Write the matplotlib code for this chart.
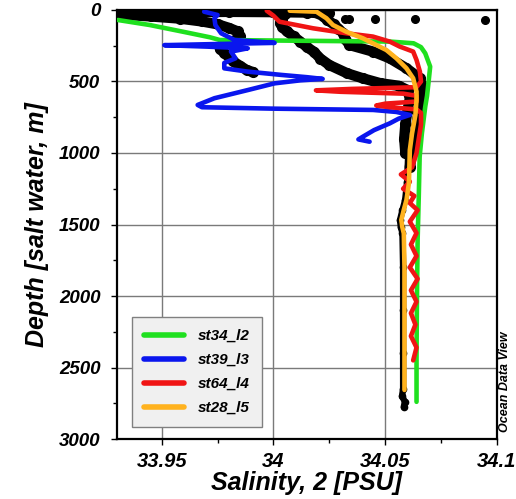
import matplotlib
matplotlib.use("Agg")
import matplotlib.pyplot as plt
from matplotlib.ticker import MultipleLocator, FixedLocator

plt.rcParams['font.family'] = ['Liberation Sans', 'DejaVu Sans']
plt.rcParams['font.weight'] = 'bold'
plt.rcParams['font.style'] = 'italic'
plt.rcParams['axes.labelweight'] = 'bold'

# ---- station profiles: depth [m] and salinity [PSU] ----
st34_depth = [70, 105, 152, 191, 210, 221, 233, 260, 303, 396, 501, 600, 676, 862, 1025, 1305, 1600, 2000, 2400, 2740]
st34_sal = [33.9304, 33.9446, 33.9595, 33.9716, 33.976, 34.0522, 34.0627, 34.066, 34.0679, 34.0701, 34.0694, 34.0687, 34.0679, 34.0664, 34.0654, 34.065, 34.0645, 34.0642, 34.064, 34.064]

st39_depth = [12, 35, 58, 105, 163, 210, 230, 238, 246, 256, 268, 291, 338, 370, 408, 431, 454, 470, 482, 492, 513, 560, 617, 664, 680, 690, 699, 713, 734, 760, 793, 840, 886, 905, 921]
st39_sal = [33.969, 33.975, 33.9736, 33.974, 33.9766, 33.9826, 34.0005, 33.975, 33.9512, 33.970, 33.9885, 33.981, 33.983, 33.978, 33.978, 33.9885, 34.0035, 34.015, 34.022, 34.012, 34.0005, 33.9885, 33.9736, 33.9661, 33.968, 34.0, 34.0446, 34.055, 34.061, 34.056, 34.052, 34.045, 34.040, 34.038, 34.043]

st64_depth = [5, 40, 82, 128, 163, 186, 221, 256, 291, 350, 431, 500, 540, 552, 562, 572, 585, 600, 640, 655, 668, 680, 695, 720, 800, 900, 1000, 1100, 1150, 1200, 1250, 1300, 1350, 1400, 1480, 1560, 1640, 1720, 1800, 1880, 1960, 2040, 2120, 2200, 2280, 2360, 2450]
st64_sal = [33.997, 34.000, 34.0027, 34.0177, 34.0326, 34.0445, 34.052, 34.0565, 34.0625, 34.064, 34.0655, 34.066, 34.064, 34.035, 34.019, 34.030, 34.058, 34.064, 34.064, 34.050, 34.046, 34.052, 34.064, 34.066, 34.066, 34.065, 34.064, 34.062, 34.057, 34.061, 34.058, 34.063, 34.061, 34.0645, 34.061, 34.064, 34.0615, 34.064, 34.061, 34.0645, 34.0615, 34.064, 34.0615, 34.0635, 34.0615, 34.064, 34.0625]

st28_depth = [5, 12, 58, 105, 152, 198, 245, 280, 338, 408, 478, 571, 629, 734, 862, 979, 1210, 1328, 1398, 1468, 1515, 1562, 1795, 2261, 2657]
st28_sal = [34.0073, 34.0192, 34.0237, 34.0266, 34.0326, 34.040, 34.046, 34.0505, 34.055, 34.0595, 34.0625, 34.064, 34.064, 34.0635, 34.062, 34.061, 34.0606, 34.0595, 34.0583, 34.0572, 34.0576, 34.0583, 34.0586, 34.0586, 34.0586]

# additional casts shown as dense black samples
surf_depth = [14, 16, 13, 15, 18, 20]
surf_sal = [33.930, 33.955, 33.980, 34.000, 34.015, 34.025]

cast_a_depth = [30, 45, 60, 80, 100, 125, 150, 180, 210, 240, 270, 300, 330, 360, 390, 420, 435]
cast_a_sal = [33.930, 33.945, 33.958, 33.968, 33.975, 33.980, 33.984, 33.985, 33.983, 33.978, 33.976, 33.978, 33.980, 33.982, 33.985, 33.988, 33.991]

cast_b_depth = [3, 30, 60, 90, 120, 150, 185, 221, 260, 291, 340, 385, 443, 478, 513, 530, 560, 620, 700, 800, 900, 1000]
cast_b_sal = [33.995, 34.005, 34.004, 34.003, 34.004, 34.006, 34.009, 34.012, 34.015, 34.018, 34.021, 34.025, 34.033, 34.040, 34.048, 34.056, 34.060, 34.061, 34.060, 34.059, 34.0585, 34.059]

cast_c_depth = [3, 15, 40, 70, 100, 130, 160, 200, 245, 291, 338, 408, 478, 520, 600, 700, 800, 900, 1000, 1100]
cast_c_sal = [34.005, 34.018, 34.022, 34.024, 34.027, 34.029, 34.031, 34.032, 34.034, 34.0445, 34.052, 34.0595, 34.0655, 34.066, 34.066, 34.065, 34.064, 34.063, 34.062, 34.061]

cast_deep_depth = [1000, 1200, 1330, 1400, 1470, 1520, 1560, 1800, 2100, 2400, 2650, 2700, 2740, 2775]
cast_deep_sal = [34.0603, 34.0598, 34.0589, 34.0577, 34.0566, 34.057, 34.0577, 34.058, 34.058, 34.058, 34.058, 34.0575, 34.0588, 34.0583]

surface_depth = [66, 63, 63, 63, 70]
surface_sal = [34.0322, 34.0336, 34.0453, 34.0632, 34.0947]

series = [
    ("st34_l2", st34_sal, st34_depth, "#1fe01f"),
    ("st39_l3", st39_sal, st39_depth, "#0a16ee"),
    ("st64_l4", st64_sal, st64_depth, "#f01414"),
    ("st28_l5", st28_sal, st28_depth, "#ffb21e"),
]

fig = plt.figure(figsize=(5.16, 4.99), dpi=100)
ax = fig.add_axes([0.2267, 0.1202, 0.7365, 0.8598])

for cs, cd in [(surf_sal, surf_depth), (cast_a_sal, cast_a_depth),
               (cast_b_sal, cast_b_depth), (cast_c_sal, cast_c_depth)]:
    ax.plot(cs, cd, color="black", lw=7.5, marker="o", ms=7, solid_capstyle="round",
            solid_joinstyle="round", zorder=2)
ax.plot(cast_deep_sal, cast_deep_depth, color="black", lw=4.6, marker="o", ms=4.5,
        solid_capstyle="round", zorder=2)
ax.plot(surface_sal, surface_depth, "o", color="black", ms=5.5, zorder=2)

handles = []
for name, s, d, c in series:
    h, = ax.plot(s, d, color=c, lw=3.3, solid_joinstyle="round", solid_capstyle="round", label=name, zorder=3)
    handles.append(h)

ax.set_xlim(33.93, 34.1)
ax.set_ylim(3000, 0)
ax.xaxis.set_major_locator(FixedLocator([33.95, 34.0, 34.05, 34.1]))
ax.set_xticklabels(["33.95", "34", "34.05", "34.1"])
ax.xaxis.set_minor_locator(MultipleLocator(0.025))
ax.yaxis.set_major_locator(MultipleLocator(500))
ax.yaxis.set_minor_locator(MultipleLocator(250))
ax.grid(True, which="major", color="#7a7a7a", lw=1.0, zorder=0)
ax.set_axisbelow(True)

for sp in ax.spines.values():
    sp.set_linewidth(1.6)
ax.tick_params(which="major", direction="out", length=4, width=1, labelsize=14.5, pad=5)
ax.tick_params(axis="y", which="major", labelsize=13.5, pad=8)
ax.tick_params(which="minor", direction="out", length=3, width=1)

ax.set_xlabel("Salinity, 2 [PSU]", fontsize=18, labelpad=0)
ax.set_ylabel("Depth [salt water, m]", fontsize=18, labelpad=7)

leg = ax.legend(handles=handles, loc="lower left", bbox_to_anchor=(0.019, 0.010),
                fontsize=11, handlelength=2.6, handletextpad=0.9, labelspacing=0.65,
                borderpad=0.8, fancybox=False, framealpha=1)
leg.get_frame().set_facecolor("#f0f0f0")
leg.get_frame().set_edgecolor("#808080")
leg.get_frame().set_linewidth(1.0)
for ln in leg.get_lines():
    ln.set_linewidth(4)

fig.text(0.979, 0.335, "Ocean Data View", rotation=90, fontsize=9,
         ha="center", va="top")

fig.savefig("out.png", dpi=100)
